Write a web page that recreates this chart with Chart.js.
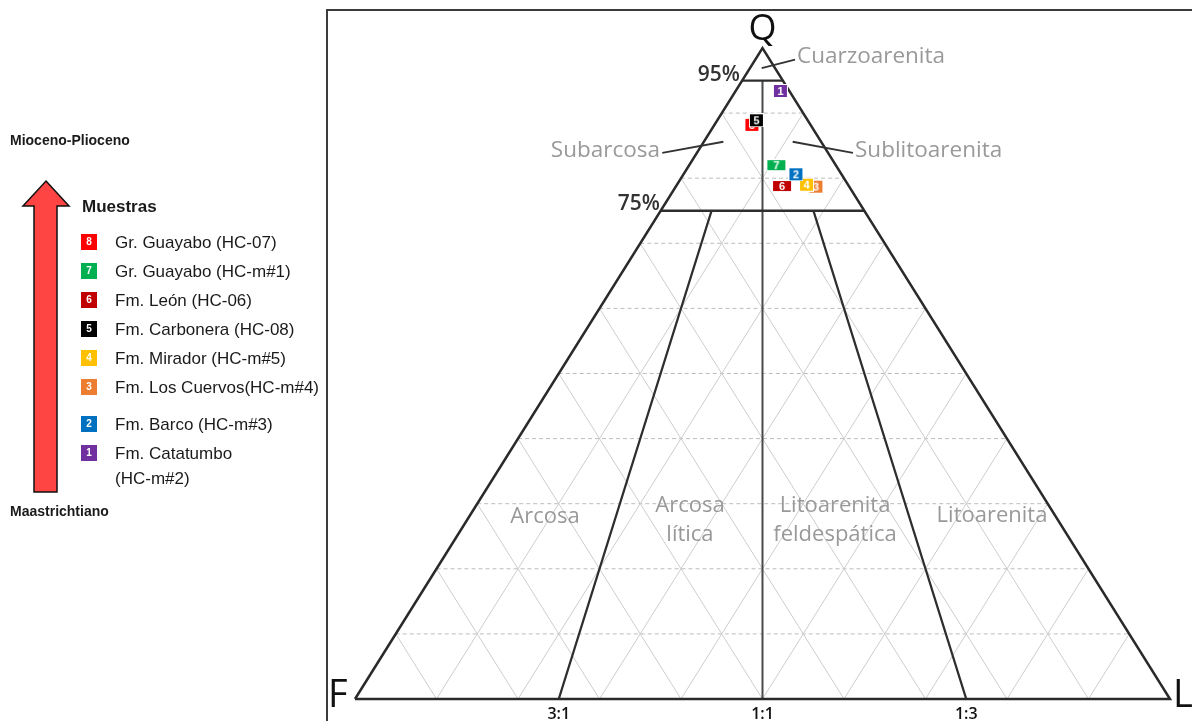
<!DOCTYPE html>
<html lang="es">
<head>
<meta charset="utf-8">
<title>Diagrama QFL - Muestras</title>
<script src="https://cdn.jsdelivr.net/npm/chart.js@4.4.1/dist/chart.umd.min.js"></script>
<style>
    html, body { margin: 0; padding: 0; background: #fff; }
    body { width: 1192px; height: 721px; position: relative; overflow: hidden; font-family: "Liberation Sans", Arial, sans-serif; color: #1a1a1a; }
    #chartQFL { position: absolute; left: 0; top: 0; }
    .marco { position: absolute; left: 326px; top: 9px; width: 1000px; height: 900px; border-left: 2px solid #3c3c3c; border-top: 2px solid #3c3c3c; }
    .epoca { position: absolute; left: 10px; font-weight: bold; font-size: 14px; line-height: 16px; }
    .flecha { position: absolute; left: 0; top: 0; }
    .titulo { position: absolute; left: 82px; top: 196px; font-weight: bold; font-size: 17px; line-height: 22px; }
    .lista { position: absolute; left: 81px; top: 228px; }
    .item { display: flex; align-items: flex-start; height: 29px; }
    .item .caja { width: 16px; height: 16px; margin-top: 6px; color: #fff; font-size: 10px; font-weight: bold; text-align: center; line-height: 16px; }
    .item .txt { margin-left: 18px; font-size: 17px; line-height: 29px; white-space: nowrap; }
    .item.m2 { margin-top: 8px; }
    .item.m1 { margin-top: 2px; height: 52px; }
    .item.m1 .txt { line-height: 25px; }
    .item.m1 .caja { margin-top: 4px; }
</style>
</head>
<body>
<div class="marco"></div>
<canvas id="chartQFL" width="1192" height="721"></canvas>

<svg class="flecha" width="80" height="500">
    <polygon points="46,181 69,206 57,206 57,492 34,492 34,206 23,206" fill="#ff4444" stroke="#111" stroke-width="1.5"/>
</svg>
<div class="epoca" style="top:132px">Mioceno-Plioceno</div>
<div class="epoca" style="top:503px">Maastrichtiano</div>
<div class="titulo">Muestras</div>
<div class="lista" id="lista"></div>

<script>
// ── Datos: muestras (porcentajes Q - F - L) ──
const sampleIds = [1, 2, 3, 4, 5, 6, 7, 8];
const sampleNames = [
    'Fm. Catatumbo<br>(HC-m#2)',
    'Fm. Barco (HC-m#3)',
    'Fm. Los Cuervos(HC-m#4)',
    'Fm. Mirador (HC-m#5)',
    'Fm. Carbonera (HC-08)',
    'Fm. León (HC-06)',
    'Gr. Guayabo (HC-m#1)',
    'Gr. Guayabo (HC-07)'
];
const sampleColors = ['#7030a0', '#0070c0', '#ed7d31', '#ffc000', '#000000', '#c00000', '#00b050', '#ff0000'];
const sampleQ = [93.4, 80.6, 78.7, 79.0, 88.9, 78.8, 82.0, 88.2];
const sampleF = [1.1, 5.6, 4.1, 5.1, 6.3, 8.2, 7.3, 7.2];
const sampleL = [5.5, 13.8, 17.2, 15.9, 4.8, 13.0, 10.7, 4.6];

// ── Rejilla y límites de campos ──
const gridLevels = [10, 20, 30, 40, 50, 60, 70, 80, 90];
const qLimits = [95, 75];
const ratioLabels = ['3:1', '1:1', '1:3'];
const ratioF = [75, 50, 25];

// Q, F, L (%) -> coordenadas del diagrama
function tern(q, f, l) {
    return { x: (l + q / 2) / 100, y: q / 100 };
}
const GAP = { x: null, y: null };

// ── Leyenda (HTML) ──
const lista = document.getElementById('lista');
[...sampleIds].reverse().forEach(id => {
    const i = id - 1;
    const div = document.createElement('div');
    div.className = 'item' + (id === 2 ? ' m2' : '') + (id === 1 ? ' m1' : '');
    div.innerHTML = `<div class="caja" style="background:${sampleColors[i]}">${id}</div><div class="txt">${sampleNames[i]}</div>`;
    lista.appendChild(div);
});

// ── Marcas de las muestras: caja con número ──
function cajaMuestra(num, color) {
    const w = (num === 6 || num === 7) ? 18 : 13;
    const h = (num === 6 || num === 7) ? 10 : 12;
    const c = document.createElement('canvas');
    c.width = w + 2; c.height = h + 2;
    const g = c.getContext('2d');
    g.fillStyle = '#ffffff';
    g.fillRect(0, 0, w + 2, h + 2);
    g.fillStyle = color;
    g.fillRect(1, 1, w, h);
    g.fillStyle = '#ffffff';
    g.font = 'bold 11px "Liberation Sans", Arial, sans-serif';
    g.textAlign = 'center';
    g.textBaseline = 'middle';
    g.fillText(String(num), (w + 2) / 2, (h + 2) / 2 + 0.5);
    return c;
}

// ── Segmentos ──
const horizGrid = [];
const diagGrid = [];
gridLevels.forEach(k => {
    horizGrid.push(tern(k, 100 - k, 0), tern(k, 0, 100 - k), GAP);
    diagGrid.push(tern(100 - k, k, 0), tern(0, k, 100 - k), GAP);
    diagGrid.push(tern(100 - k, 0, k), tern(0, 100 - k, k), GAP);
});

const outline = [tern(0, 100, 0), tern(0, 0, 100), tern(100, 0, 0), tern(0, 100, 0)];

const limits = [];
qLimits.forEach(q => limits.push(tern(q, 100 - q, 0), tern(q, 0, 100 - q), GAP));
// líneas 3:1 y 1:3 desde el 75%
[ratioF[0], ratioF[2]].forEach(fr => {
    const q = qLimits[1];
    limits.push(tern(q, (100 - q) * fr / 100, (100 - q) * (100 - fr) / 100), tern(0, fr, 100 - fr), GAP);
});
const centerLine = [tern(95, 2.5, 2.5), tern(0, 50, 50)];

const leaders = [
    { x: 0.499, y: 0.969 }, { x: 0.540, y: 0.982 }, GAP,
    { x: 0.377, y: 0.839 }, { x: 0.452, y: 0.856 }, GAP,
    { x: 0.537, y: 0.856 }, { x: 0.611, y: 0.839 }
];

// ── Textos del diagrama ──
const GRIS = '#999999';
const OSANS = '"Open Sans", "DejaVu Sans", sans-serif';
const textos = [
    { t: 'Q', x: 0.5, y: 1.028, font: `36px ${OSANS}`, color: '#111', align: 'center' },
    { t: 'F', x: -0.021, y: 0.005, font: `38px ${OSANS}`, color: '#111', align: 'center' },
    { t: 'L', x: 1.016, y: 0.005, font: `38px ${OSANS}`, color: '#111', align: 'center' },
    { t: '95%', x: 0.4724, y: 0.9585, font: `600 21px ${OSANS}`, color: '#333', align: 'right' },
    { t: '75%', x: 0.3742, y: 0.7604, font: `600 21px ${OSANS}`, color: '#333', align: 'right' },
    { t: 'Cuarzoarenita', x: 0.5423, y: 0.9862, font: `22.5px ${OSANS}`, color: GRIS, align: 'left' },
    { t: 'Subarcosa', x: 0.3742, y: 0.8418, font: `22.5px ${OSANS}`, color: GRIS, align: 'right' },
    { t: 'Sublitoarenita', x: 0.6135, y: 0.8418, font: `22.5px ${OSANS}`, color: GRIS, align: 'left' },
    { t: 'Arcosa', x: 0.2331, y: 0.2796, font: `22px ${OSANS}`, color: GRIS, align: 'center' },
    { t: 'Arcosa', x: 0.411, y: 0.2975, font: `22px ${OSANS}`, color: GRIS, align: 'center' },
    { t: 'lítica', x: 0.411, y: 0.253, font: `22px ${OSANS}`, color: GRIS, align: 'center' },
    { t: 'Litoarenita', x: 0.589, y: 0.2975, font: `22px ${OSANS}`, color: GRIS, align: 'center' },
    { t: 'feldespática', x: 0.589, y: 0.253, font: `22px ${OSANS}`, color: GRIS, align: 'center' },
    { t: 'Litoarenita', x: 0.7816, y: 0.2811, font: `22px ${OSANS}`, color: GRIS, align: 'center' }
];
ratioLabels.forEach((r, i) => {
    textos.push({ t: r, x: (100 - ratioF[i]) / 100, y: -0.023, font: `600 16px ${OSANS}`, color: '#111', align: 'center' });
});

const textoDiagrama = {
    id: 'textoDiagrama',
    afterDraw(chart) {
        const { ctx, scales: { x, y } } = chart;
        ctx.save();
        ctx.textBaseline = 'middle';
        textos.forEach(e => {
            ctx.font = e.font;
            ctx.fillStyle = e.color;
            ctx.textAlign = e.align;
            ctx.fillText(e.t, x.getPixelForValue(e.x), y.getPixelForValue(e.y));
        });
        ctx.restore();
    }
};

Chart.defaults.font.family = '"Liberation Sans", Arial, sans-serif';

const lineSet = (data, color, width, order, dash) => ({
    type: 'line',
    data,
    borderColor: color,
    borderWidth: width,
    borderDash: dash || [],
    pointRadius: 0,
    fill: false,
    spanGaps: false,
    tension: 0,
    order
});

const sampleSets = sampleIds.map((id, i) => ({
    label: sampleNames[i],
    data: [tern(sampleQ[i], sampleF[i], sampleL[i])],
    pointStyle: cajaMuestra(id, sampleColors[i]),
    order: id === 3 ? 1 : 0
}));

new Chart(document.getElementById('chartQFL'), {
    type: 'scatter',
    data: {
        datasets: [
            lineSet(horizGrid, '#bdbdbd', 1, 20, [4, 3]),
            lineSet(diagGrid, '#cdcdcd', 1, 19),
            lineSet(centerLine, '#4a4a4a', 2, 12),
            lineSet(limits, '#2e2e2e', 2.3, 11),
            lineSet(outline, '#2a2a2a', 2.5, 10),
            lineSet(leaders, '#333333', 1.8, 9),
            ...sampleSets
        ]
    },
    options: {
        responsive: false,
        animation: false,
        events: [],
        layout: { padding: 0, autoPadding: false },
        plugins: {
            legend: { display: false },
            tooltip: { enabled: false }
        },
        scales: {
            x: { type: 'linear', min: -0.43558, max: 1.02700, display: false },
            y: { type: 'linear', min: -0.03380, max: 1.07373, display: false }
        }
    },
    plugins: [textoDiagrama]
});
</script>
</body>
</html>
